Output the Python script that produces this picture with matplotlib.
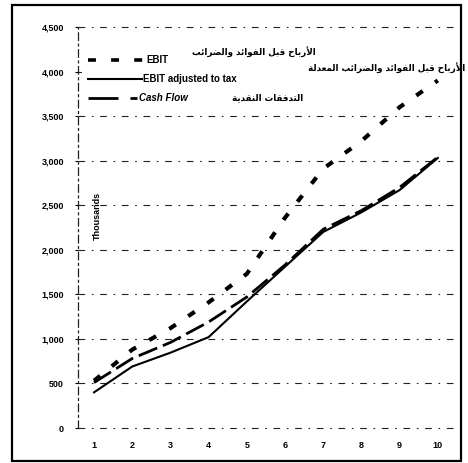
import matplotlib
matplotlib.use("Agg")
import matplotlib.pyplot as plt
from matplotlib.lines import Line2D
from matplotlib.patches import Rectangle

# ---------------- data ----------------
years = [1, 2, 3, 4, 5, 6, 7, 8, 9, 10]
ebit = [530, 880, 1120, 1410, 1730, 2360, 2910, 3220, 3600, 3900]
ebit_adj = [400, 690, 845, 1020, 1420, 1810, 2200, 2420, 2670, 3030]
cash_flow = [510, 780, 960, 1190, 1470, 1830, 2230, 2440, 2700, 3040]
y_ticks = [0, 500, 1000, 1500, 2000, 2500, 3000, 3500, 4000, 4500]
y_tick_labels = ["0", "500", "1,000", "1,500", "2,000", "2,500", "3,000", "3,500", "4,000", "4,500"]
x_tick_labels = ["1", "2", "3", "4", "5", "6", "7", "8", "9", "10"]
legend_en = ["EBIT", "EBIT adjusted to tax", "Cash Flow"]
legend_ar = ["الأرباح قبل الفوائد والضرائب",
             "الأرباح قبل الفوائد والضرائب المعدلة",
             "التدفقات النقدية"]
unit_label = "Thousands"

# ---------------- minimal Arabic shaping (presentation forms) ----------------
AR_FORMS = {
    'ا': (0xFE8D, 2), 'أ': (0xFE83, 2), 'إ': (0xFE87, 2), 'آ': (0xFE81, 2),
    'ب': (0xFE8F, 4), 'ة': (0xFE93, 2), 'ت': (0xFE95, 4), 'ح': (0xFEA1, 4),
    'د': (0xFEA9, 2), 'ر': (0xFEAD, 2), 'ض': (0xFEBD, 4), 'ع': (0xFEC9, 4),
    'ف': (0xFED1, 4), 'ق': (0xFED5, 4), 'ل': (0xFEDD, 4), 'م': (0xFEE1, 4),
    'ن': (0xFEE5, 4), 'و': (0xFEED, 2), 'ي': (0xFEF1, 4), 'ئ': (0xFE89, 4),
}
LAM_ALEF = {'ا': 0xFEFB, 'أ': 0xFEF7, 'إ': 0xFEF9, 'آ': 0xFEF5}


def shape(s):
    items = []
    i = 0
    while i < len(s):
        c = s[i]
        if c == 'ل' and i + 1 < len(s) and s[i + 1] in LAM_ALEF:
            items.append(('LA', LAM_ALEF[s[i + 1]]))
            i += 2
        else:
            items.append(('C', c))
            i += 1

    def joins_next(it):
        return it[0] == 'C' and it[1] in AR_FORMS and AR_FORMS[it[1]][1] == 4

    def is_letter(it):
        return it[0] == 'LA' or it[1] in AR_FORMS

    out = []
    for k, it in enumerate(items):
        prev = items[k - 1] if k > 0 else None
        nxt = items[k + 1] if k + 1 < len(items) else None
        jp = prev is not None and joins_next(prev)
        if it[0] == 'LA':
            out.append(chr(it[1] + (1 if jp else 0)))
            continue
        c = it[1]
        if c not in AR_FORMS:
            out.append(c)
            continue
        base, n = AR_FORMS[c]
        jn = n == 4 and nxt is not None and is_letter(nxt)
        if jp and jn:
            f = 3
        elif jp:
            f = 1
        elif jn:
            f = 2
        else:
            f = 0
        out.append(chr(base + f))
    return ''.join(reversed(out))


# ---------------- figure ----------------
W, H = 468, 463
fig = plt.figure(figsize=(W / 100, H / 100), dpi=100)
fig.patch.set_facecolor("white")


def fx(px):
    return px / W


def fy(py):
    return 1 - py / H


ax = fig.add_axes([fx(78), fy(428), fx(455) - fx(78), fy(27) - fy(428)])
ax.set_xlim(0.58, 10.45)
ax.set_ylim(0, 4500)

for s in ["top", "right", "bottom"]:
    ax.spines[s].set_visible(False)
ax.spines["left"].set_linestyle((0, (6, 3, 1.5, 3)))
ax.spines["left"].set_linewidth(0.9)
ax.spines["left"].set_color("#222222")

# grid lines
for yv in y_ticks:
    ax.axhline(yv, color="#222222", lw=0.8, ls=(0, (6, 6, 1.5, 6)), zorder=1, clip_on=False)

# white legend background (hides gridline behind the legend block)
ax.add_patch(Rectangle((fx(82), fy(77)), fx(466) - fx(82), fy(42) - fy(77),
                       transform=fig.transFigure, facecolor="white", edgecolor="none",
                       zorder=2, clip_on=False))

tickfont = dict(family="Liberation Sans", weight="bold", size=6.5)
ax.set_yticks(y_ticks)
ax.set_yticklabels(y_tick_labels, fontdict=tickfont)
ax.set_xticks(years)
ax.set_xticklabels(x_tick_labels, fontdict=tickfont)
ax.tick_params(axis="y", length=2, width=0.8, pad=8, colors="black")
ax.tick_params(axis="x", length=0, pad=9, colors="black")

# series
ax.plot(years, ebit, color="black", lw=3, dashes=(1.9, 3.6), solid_capstyle="butt",
        dash_capstyle="butt", zorder=3)
ax.plot(years, ebit_adj, color="black", lw=1.5, zorder=3)
ax.plot(years, cash_flow, color="black", lw=2.0, dashes=(7.2, 2.2), dash_capstyle="butt",
        zorder=3)

# unit label
ax.text(fx(97), fy(216), unit_label, transform=fig.transFigure, rotation=90,
        ha="center", va="center", fontsize=6.5, fontweight="bold", family="Liberation Sans")

# legend (manual)
fig.add_artist(Line2D([fx(88), fx(145)], [fy(60), fy(60)], transform=fig.transFigure,
                      color="black", lw=2.6, dashes=(2.2, 4.2), dash_capstyle="butt"))
fig.add_artist(Line2D([fx(88), fx(142)], [fy(79), fy(79)], transform=fig.transFigure,
                      color="black", lw=1.5))
fig.add_artist(Line2D([fx(88), fx(137)], [fy(98), fy(98)], transform=fig.transFigure,
                      color="black", lw=2.0, dashes=(10.8, 4.3), dash_capstyle="butt"))
lf = dict(family="Liberation Sans", weight="bold", size=7)
fig.text(fx(146), fy(60), legend_en[0], va="center", ha="left", fontdict=lf)
fig.text(fx(143), fy(79), legend_en[1], va="center", ha="left", fontdict=lf)
fig.text(fx(139), fy(98), legend_en[2], va="center", ha="left", fontdict=lf, style="italic")

af = dict(family="DejaVu Sans", weight="bold", size=6.3)
fig.text(fx(192), fy(52), shape(legend_ar[0]), va="center", ha="left", fontdict=af)
fig.text(fx(465), fy(68), shape(legend_ar[1]), va="center", ha="right", fontdict=af)
fig.text(fx(232), fy(98), shape(legend_ar[2]), va="center", ha="left", fontdict=af)

# outer border
fig.add_artist(Rectangle((fx(12), fy(461)), fx(461) - fx(12), fy(5) - fy(461),
                         transform=fig.transFigure, fill=False, lw=1.6, color="black"))

fig.savefig("out.png", dpi=100)
